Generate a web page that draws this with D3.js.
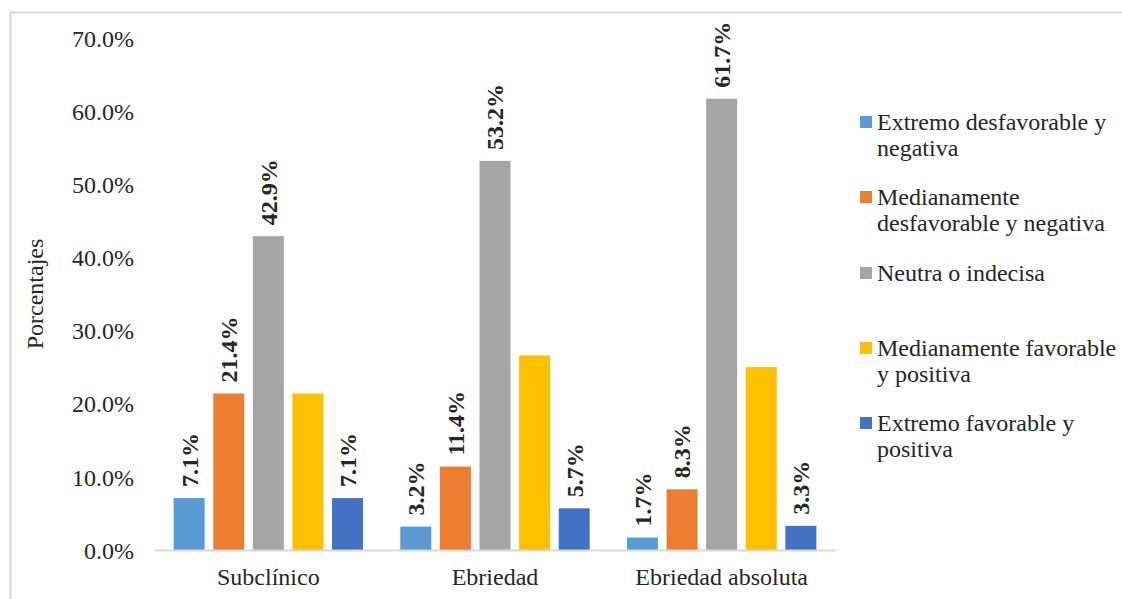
<!DOCTYPE html>
<html lang="es">
<head>
<meta charset="utf-8">
<script src="https://cdn.jsdelivr.net/npm/d3@7"></script>
<style>
  html, body { margin: 0; padding: 0; background: #fff; }
  svg { display: block; font-family: "Liberation Serif", "Times New Roman", serif; }
</style>
</head>
<body>
<svg id="chart" width="1122" height="599"></svg>
<script>
// Categories on the x axis
const categories = ["Subclínico", "Ebriedad", "Ebriedad absoluta"];

// Attitude levels (series)
const seriesNames = [
  "Extremo desfavorable y negativa",
  "Medianamente desfavorable y negativa",
  "Neutra o indecisa",
  "Medianamente favorable y positiva",
  "Extremo favorable y positiva"
];

// Percentages per series, in category order
const extremoDesfavorable = [0.071, 0.032, 0.017];
const medianamenteDesfavorable = [0.214, 0.114, 0.083];
const neutra = [0.429, 0.532, 0.617];
const medianamenteFavorable = [0.214, 0.266, 0.250];
const extremoFavorable = [0.071, 0.057, 0.033];

// Which series carry a value label
const labelled = [true, true, true, false, true];

// Legend text, split into lines
const legendLines = [
  ["Extremo desfavorable y", "negativa"],
  ["Medianamente", "desfavorable y negativa"],
  ["Neutra o indecisa"],
  ["Medianamente favorable", "y positiva"],
  ["Extremo favorable y", "positiva"]
];

const yTicks = [0, 0.1, 0.2, 0.3, 0.4, 0.5, 0.6, 0.7];

const seriesValues = [extremoDesfavorable, medianamenteDesfavorable, neutra, medianamenteFavorable, extremoFavorable];
const colors = ["#5B9BD5", "#ED7D31", "#A5A5A5", "#FFC000", "#4472C4"];

const FONT = "'Liberation Serif', 'Times New Roman', serif";
const FS = 24;

const svg = d3.select("#chart");

// Outer chart frame (top and left edges visible)
svg.append("path")
  .attr("d", "M10.5,599 V12.5 H1122")
  .attr("fill", "none")
  .attr("stroke", "#d9d9d9")
  .attr("stroke-width", 2);

const plot = { left: 155, right: 835, top: 38, bottom: 550 };

const x0 = d3.scaleBand().domain(categories).range([plot.left, plot.right]).padding(0);
const x1 = d3.scaleBand().domain(d3.range(seriesNames.length))
  .range([0, x0.bandwidth()]).paddingInner(0.217).paddingOuter(0.47);
const y = d3.scaleLinear().domain([0, 0.7]).range([plot.bottom, plot.top]);

// Y axis tick labels (no axis line, no gridlines)
const yAxis = d3.axisLeft(y).tickValues(yTicks).tickFormat(d3.format(".1%")).tickSize(0).tickPadding(0);
const yg = svg.append("g").attr("transform", "translate(134,0)").call(yAxis);
yg.select(".domain").remove();
yg.attr("font-family", FONT).attr("font-size", FS);
yg.selectAll("text")
  .attr("fill", "#262626")
  .attr("dy", "0.34em");

// Y axis title
svg.append("text")
  .attr("transform", `translate(43,${(plot.top + plot.bottom) / 2}) rotate(-90)`)
  .attr("text-anchor", "middle")
  .attr("font-family", FONT)
  .attr("font-size", FS)
  .attr("fill", "#262626")
  .text("Porcentajes");

// Bars
const groups = svg.append("g").selectAll("g")
  .data(categories)
  .join("g")
  .attr("transform", d => `translate(${x0(d)},0)`);

const cells = groups.selectAll("g")
  .data((c, ci) => seriesValues.map((vals, si) => ({ si, v: vals[ci] })))
  .join("g");

cells.append("rect")
  .attr("x", d => x1(d.si))
  .attr("width", x1.bandwidth())
  .attr("y", d => y(d.v))
  .attr("height", d => y(0) - y(d.v))
  .attr("fill", d => colors[d.si]);

// Rotated value labels
cells.filter(d => labelled[d.si])
  .append("text")
  .attr("transform", d => `translate(${x1(d.si) + x1.bandwidth() / 2},${y(d.v) - 11}) rotate(-90)`)
  .attr("dy", "0.35em")
  .attr("font-family", FONT)
  .attr("font-size", FS)
  .attr("font-weight", "bold")
  .attr("fill", "#262626")
  .text(d => d3.format(".1%")(d.v));

// X axis line and category labels
const xAxis = d3.axisBottom(x0).tickSize(0).tickPadding(18);
const xg = svg.append("g").attr("transform", `translate(0,${plot.bottom})`).call(xAxis);
xg.attr("font-family", FONT).attr("font-size", FS);
xg.select(".domain").attr("stroke", "#d9d9d9").attr("stroke-width", 2);
xg.selectAll("text")
  .attr("fill", "#262626")
  .attr("dy", "0.71em");

// Legend
const legendTop = [122, 197, 273, 348, 423];
const legend = svg.append("g").selectAll("g")
  .data(seriesNames)
  .join("g")
  .attr("transform", (d, i) => `translate(860,${legendTop[i]})`);

legend.append("rect")
  .attr("x", 0).attr("y", -6)
  .attr("width", 12).attr("height", 12)
  .attr("fill", (d, i) => colors[i]);

legend.append("text")
  .attr("font-family", FONT)
  .attr("font-size", FS)
  .attr("fill", "#262626")
  .selectAll("tspan")
  .data((d, i) => legendLines[i])
  .join("tspan")
  .attr("x", 17)
  .attr("y", (d, j) => j * 26)
  .attr("dy", "0.35em")
  .text(d => d);
</script>
</body>
</html>
